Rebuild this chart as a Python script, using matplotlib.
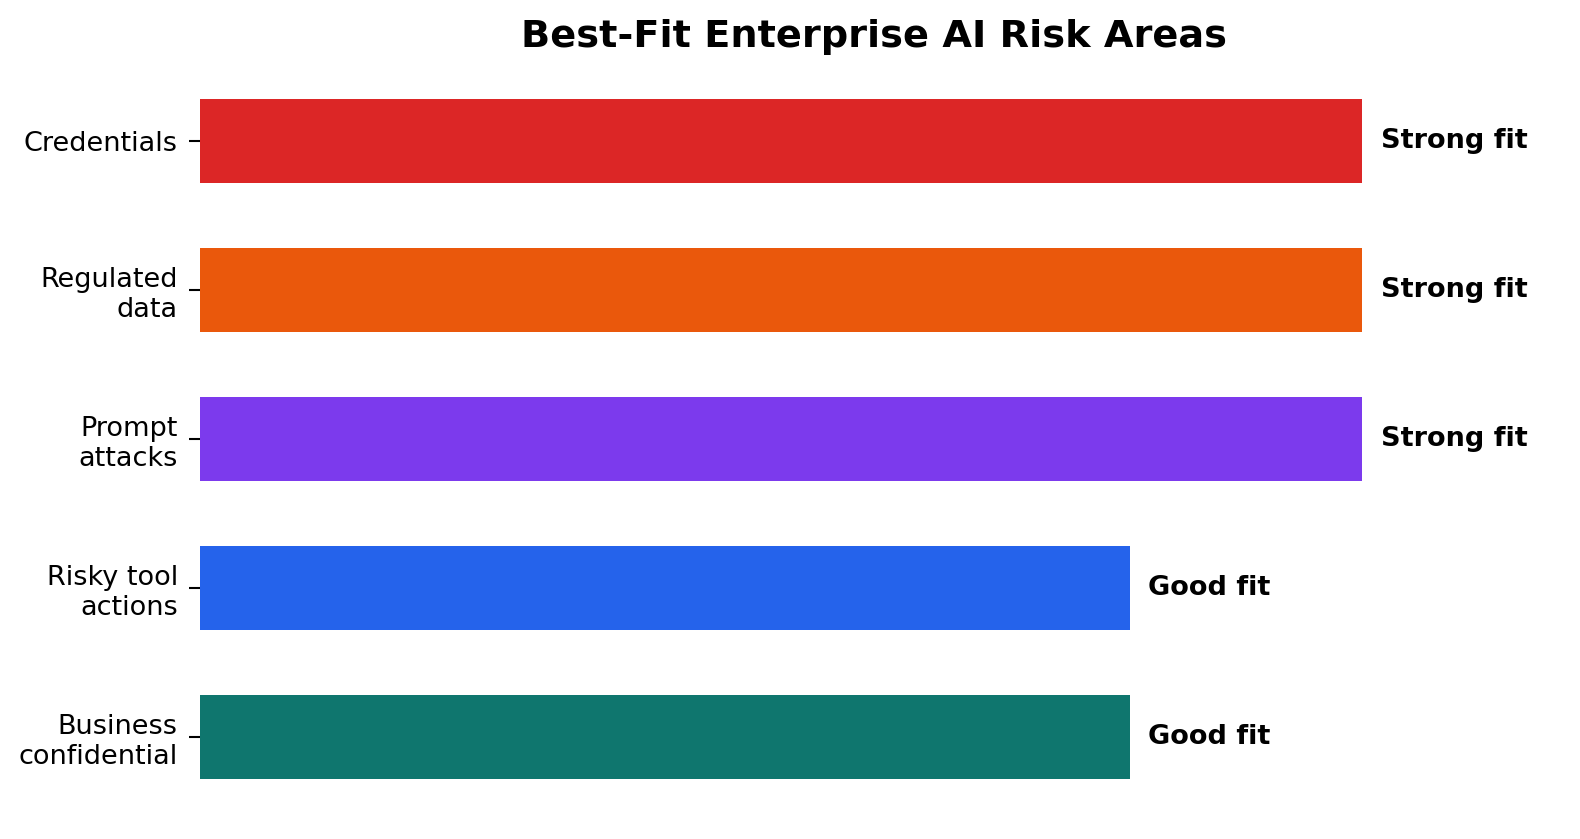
import matplotlib
matplotlib.use("Agg")
import matplotlib.pyplot as plt

categories = ["Credentials", "Regulated\ndata", "Prompt\nattacks", "Risky tool\nactions", "Business\nconfidential"]
scores = [5, 5, 5, 4, 4]
fit_labels = ["Strong fit", "Strong fit", "Strong fit", "Good fit", "Good fit"]
colors = ["#dc2626", "#ea580c", "#7c3aed", "#2563eb", "#0f766e"]

fig = plt.figure(figsize=(15.8, 8.39), dpi=100)
ax = fig.add_axes([200/1580, (839-811.5)/839, 1162/1580, 745/839])
y = list(range(len(categories)))
ax.barh(y, scores, height=0.56, color=colors)
for yi, s, t in zip(y, scores, fit_labels):
    ax.text(s + 0.08, yi, t, va="center", ha="left", fontsize=19.5, fontweight="bold")
ax.set_yticks(y)
ax.set_yticklabels(categories, fontsize=19.5)
ax.tick_params(axis="y", length=8, width=1.5, pad=8)
ax.set_ylim(4.5, -0.5)
ax.set_xlim(0, 5)
ax.set_xticks([])
for sp in ax.spines.values():
    sp.set_visible(False)
fig.text(874/1580, 1 - 37/839, "Best-Fit Enterprise AI Risk Areas", ha="center", va="center",
         fontsize=27.5, fontweight="bold")
fig.savefig("out.png", dpi=100)
